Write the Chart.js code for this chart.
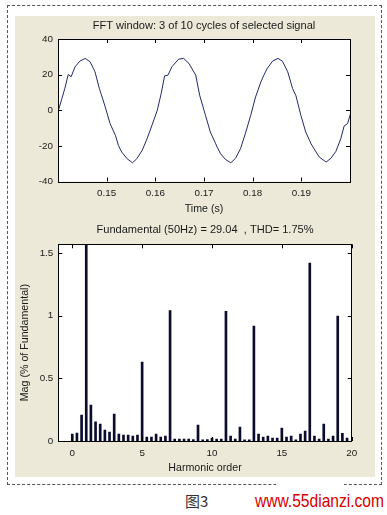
<!DOCTYPE html>
<html>
<head>
<meta charset="utf-8">
<script src="https://cdn.jsdelivr.net/npm/chart.js@4.4.1/dist/chart.umd.min.js"></script>
<style>
  body { margin: 0; background: #fff; width: 387px; height: 515px; position: relative; overflow: hidden; }
  #frame { position: absolute; left: 7px; top: 5px; width: 373px; height: 478px; border: 1px dashed #555; }
  #panel { position: absolute; left: 15px; top: 16px; width: 360px; height: 461px; background: #ece9d8; }
  #gap { position: absolute; left: 276px; top: 482px; width: 68px; height: 4px; background: #fff; }
  #c1 { position: absolute; left: 15px; top: 15px; }
  #c2 { position: absolute; left: 15px; top: 218px; }
  .cap { position: absolute; top: 492px; line-height: 18px; white-space: nowrap; transform-origin: 0 50%; }
  #fig { left: 185px; font-family: "Noto Sans CJK SC", sans-serif; font-size: 15px; color: #333; }
  #url { right: 3px; font-family: "Liberation Sans Narrow", "Liberation Sans", Arial, sans-serif; font-size: 19px; color: #d40000; }
</style>
</head>
<body>
<div id="frame"></div>
<div id="panel"></div>
<div id="gap"></div>
<canvas id="c1" width="360" height="205"></canvas>
<canvas id="c2" width="360" height="260"></canvas>
<div class="cap" id="fig">图3</div>
<div class="cap" id="url">www.55dianzi.com</div>
<script>
// signal in the FFT window
const sigT = [0.1401, 0.1408, 0.1414, 0.1421, 0.1427, 0.1435, 0.1445, 0.1456, 0.1466, 0.1476,
  0.1485, 0.1489, 0.1497, 0.1507, 0.1518, 0.1524, 0.1531, 0.1542, 0.1553, 0.1562,
  0.1573, 0.1583, 0.1593, 0.1604, 0.1612, 0.1619, 0.1626, 0.1634, 0.1648, 0.1658,
  0.1669, 0.1683, 0.1691, 0.1700, 0.1703, 0.1713, 0.1724, 0.1727, 0.1734, 0.1744,
  0.1755, 0.1765, 0.1775, 0.1786, 0.1796, 0.1806, 0.1817, 0.1823, 0.1830, 0.1841,
  0.1852, 0.1861, 0.1872, 0.1882, 0.1889, 0.1899, 0.1909, 0.1920, 0.1926, 0.1937,
  0.1951, 0.1961, 0.1971, 0.1981, 0.1988, 0.1995, 0.2001];
const sigV = [0, 6.6, 12.2, 20.1, 18.8, 24.4, 27.6, 29.1, 27.2, 21.6,
  12.2, 8.8, 1.9, -7.5, -14.1, -19.7, -23.5, -27.2, -29.5, -27.2,
  -22.5, -16, -8.5, 0, 9.4, 19.3, 19.7, 24.4, 28.7, 29.1,
  26.3, 19.7, 8.5, 0, -2.8, -12.2, -18.8, -20.7, -24.4, -27.6,
  -29.5, -26.9, -21.6, -12.2, -2.8, 7.5, 16, 19.7, 23.5, 27.6,
  29.1, 27.6, 21.6, 12.2, 8.1, -2.8, -12.2, -18.8, -21.6, -26.3,
  -29.1, -26.9, -23.1, -16, -8.8, -7.5, -1.9];
const timeTicks = [0.15, 0.16, 0.17, 0.18, 0.19];
const sigTicks = [-40, -20, 0, 20, 40];

// harmonic spectrum, bins every 1/3 harmonic (3-cycle window)
const harmOrder = [0, 0.333, 0.667, 1, 1.333, 1.667, 2, 2.333, 2.667, 3, 3.333, 3.667, 4, 4.333, 4.667,
  5, 5.333, 5.667, 6, 6.333, 6.667, 7, 7.333, 7.667, 8, 8.333, 8.667, 9, 9.333, 9.667,
  10, 10.333, 10.667, 11, 11.333, 11.667, 12, 12.333, 12.667, 13, 13.333, 13.667, 14, 14.333, 14.667,
  15, 15.333, 15.667, 16, 16.333, 16.667, 17, 17.333, 17.667, 18, 18.333, 18.667, 19, 19.333, 19.667, 20];
const harmMag = [0.056, 0.064, 0.207, 100, 0.287, 0.154, 0.136, 0.088, 0.072, 0.215, 0.056, 0.048, 0.048, 0.04, 0.048,
  0.63, 0.032, 0.032, 0.056, 0.032, 0.04, 1.04, 0.016, 0.016, 0.016, 0.016, 0.012, 0.128, 0.01, 0.012,
  0.024, 0.016, 0.016, 1.035, 0.04, 0.016, 0.112, 0.01, 0.01, 0.917, 0.056, 0.032, 0.04, 0.024, 0.024,
  0.104, 0.032, 0.04, 0.01, 0.056, 0.08, 1.42, 0.04, 0.016, 0.136, 0.016, 0.04, 0.997, 0.061, 0.024];
const harmTicks = [0, 5, 10, 15, 20];
const magTicks = [0, 0.5, 1, 1.5];

// narrow font if the system has it, otherwise squeeze the size of the normal one
function hasFont(name) {
  const c = document.createElement('canvas').getContext('2d');
  c.font = '20px monospace';
  const a = c.measureText('FFT window 0123').width;
  c.font = '20px "' + name + '", monospace';
  return c.measureText('FFT window 0123').width !== a;
}
const narrow = hasFont('Liberation Sans Narrow');
const FAMILY = narrow ? '"Liberation Sans Narrow", "Liberation Sans", Arial, sans-serif' : '"Liberation Sans", Arial, sans-serif';
const k = narrow ? 1 : 0.82;
const tickFont = { family: FAMILY, size: 12 * k };
const labelFont = { family: FAMILY, size: 13 * k };
const titleFont = { family: FAMILY, size: 13.5 * k, weight: 'normal' };
const TXT = '#1a1a1a';
if (!narrow) {
  const url = document.getElementById('url');
  url.style.fontSize = (19 * k) + 'px';
  url.style.transform = 'scaleY(1.22)';
}

// white axes box with MATLAB style inward ticks
const axesBox = {
  id: 'axesBox',
  beforeDraw(chart) {
    const { ctx, chartArea: a } = chart;
    ctx.save();
    ctx.fillStyle = '#fff';
    ctx.fillRect(a.left, a.top, a.right - a.left, a.bottom - a.top);
    ctx.restore();
  },
  afterDraw(chart) {
    const { ctx, chartArea: a, scales } = chart;
    const len = 4;
    ctx.save();
    ctx.strokeStyle = '#000';
    ctx.lineWidth = 1;
    ctx.beginPath();
    scales.x.ticks.forEach(t => {
      const x = Math.round(scales.x.getPixelForValue(t.value)) + 0.5;
      ctx.moveTo(x, a.bottom); ctx.lineTo(x, a.bottom - len);
      ctx.moveTo(x, a.top); ctx.lineTo(x, a.top + len);
    });
    scales.y.ticks.forEach(t => {
      const y = Math.round(scales.y.getPixelForValue(t.value)) + 0.5;
      ctx.moveTo(a.left, y); ctx.lineTo(a.left + len, y);
      ctx.moveTo(a.right, y); ctx.lineTo(a.right - len, y);
    });
    ctx.stroke();
    ctx.strokeRect(Math.round(a.left) + 0.5, Math.round(a.top) + 0.5, Math.round(a.right - a.left), Math.round(a.bottom - a.top));
    ctx.restore();
  }
};

const setTicks = arr => scale => { scale.ticks = arr.map(v => ({ value: v })); };
const plain = v => String(v);
const noGrid = { display: false, drawTicks: false };

// a tick-less top axis carries the title, so it is centred over the axes box like in MATLAB
const titleAxis = (text, min, max, padTop, height) => ({
  type: 'linear', position: 'top', axis: 'x', min: min, max: max,
  grid: noGrid, border: { display: false }, ticks: { display: false },
  title: { display: true, text: text, color: TXT, font: titleFont, padding: { top: padTop, bottom: 0 } },
  afterFit: s => { s.height = height; }
});

new Chart(document.getElementById('c1'), {
  type: 'line',
  data: {
    datasets: [{
      data: sigT.map((t, i) => ({ x: t, y: sigV[i] })),
      xAxisID: 'x', yAxisID: 'y',
      borderColor: '#22296a',
      borderWidth: 1,
      pointRadius: 0,
      tension: 0
    }]
  },
  options: {
    responsive: false,
    animation: false,
    layout: { padding: { left: 0, right: 25, top: 0, bottom: 0 } },
    plugins: { legend: { display: false }, tooltip: { enabled: false } },
    scales: {
      x: {
        type: 'linear', min: 0.14, max: 0.2,
        grid: noGrid, border: { display: false },
        ticks: { font: tickFont, color: TXT, padding: 6, maxRotation: 0, callback: plain },
        afterBuildTicks: setTicks(timeTicks),
        title: { display: true, text: 'Time (s)', color: TXT, font: labelFont, padding: { top: 0, bottom: 5 } },
        afterFit: s => { s.height = 38.5; }
      },
      y: {
        min: -40, max: 40,
        grid: noGrid, border: { display: false },
        ticks: { font: tickFont, color: TXT, padding: 5, callback: plain },
        afterBuildTicks: setTicks(sigTicks),
        afterFit: s => { s.width = 43; }
      },
      head: titleAxis('FFT window: 3 of 10 cycles of selected signal', 0.14, 0.2, 3.8, 24)
    }
  },
  plugins: [axesBox]
});

new Chart(document.getElementById('c2'), {
  type: 'bar',
  data: {
    datasets: [{
      data: harmOrder.map((h, i) => ({ x: h, y: harmMag[i] })),
      xAxisID: 'x', yAxisID: 'y',
      backgroundColor: '#0b0b2e',
      barThickness: 2
    }]
  },
  options: {
    responsive: false,
    animation: false,
    layout: { padding: { left: 0, right: 23.3, top: 0, bottom: 0 } },
    plugins: { legend: { display: false }, tooltip: { enabled: false } },
    scales: {
      x: {
        type: 'linear', min: -1, max: 20, offset: false,
        grid: noGrid, border: { display: false },
        ticks: { font: tickFont, color: TXT, padding: 6, maxRotation: 0, callback: plain },
        afterBuildTicks: setTicks(harmTicks),
        title: { display: true, text: 'Harmonic order', color: TXT, font: labelFont, padding: { top: 0, bottom: 3.7 } },
        afterFit: s => { s.height = 37; }
      },
      y: {
        min: 0, max: 1.57,
        grid: noGrid, border: { display: false },
        ticks: { font: tickFont, color: TXT, padding: 5, callback: plain },
        afterBuildTicks: setTicks(magTicks),
        title: { display: true, text: 'Mag (% of Fundamental)', color: TXT, font: labelFont, padding: { top: 3.4, bottom: 0 } },
        afterFit: s => { s.width = 43.3; }
      },
      head: titleAxis('Fundamental (50Hz) = 29.04  , THD= 1.75%', -1, 20, 4.9, 26.3)
    }
  },
  plugins: [axesBox]
});
</script>
</body>
</html>
